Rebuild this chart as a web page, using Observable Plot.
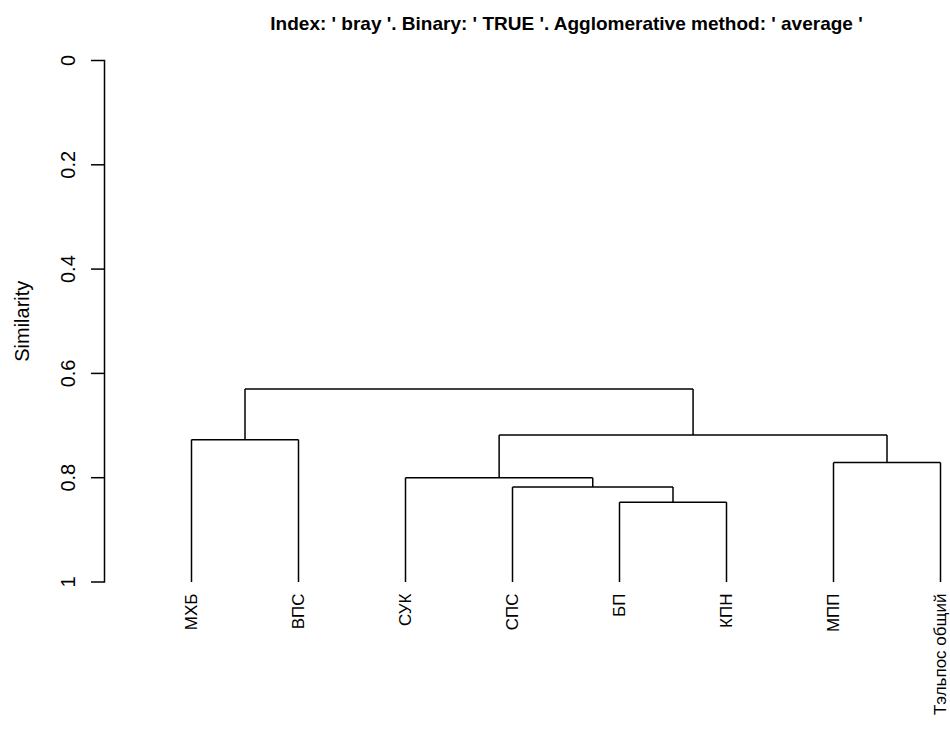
<!DOCTYPE html>
<html>
<head>
<meta charset="utf-8">
<script src="https://cdn.jsdelivr.net/npm/d3@7"></script>
<script src="https://cdn.jsdelivr.net/npm/@observablehq/plot@0.6"></script>
<style>
  html, body { margin: 0; padding: 0; background: #ffffff; }
  #chart svg { display: block; }
</style>
</head>
<body>
<div id="chart"></div>
<script>
// ---- data ----
const title = "Index: ' bray '. Binary: ' TRUE '. Agglomerative method: ' average '";
const yLabel = "Similarity";
const leafLabels = ["МХБ", "ВПС", "СУК", "СПС", "БП", "КПН", "МПП", "Тэльпос общий"];
// R-style merge matrix: negative = leaf (1-based, display order), positive = earlier merge
const mergeLeft  = [-5, -4, -3, -7, -1, 3, 5];
const mergeRight = [-6,  1,  2, -8, -2, 4, 6];
const mergeHeights = [0.847, 0.818, 0.800, 0.771, 0.727, 0.718, 0.630];
const yTicks = [0, 0.2, 0.4, 0.6, 0.8, 1];
const yTickLabels = ["0", "0.2", "0.4", "0.6", "0.8", "1"];
const leafHeight = 1;

// ---- tree layout (from the data above) ----
const leaves = leafLabels.map((label, i) => ({label, x: i + 1}));
const nodeX = [], nodeH = [];
const childX = c => c < 0 ? leaves[-c - 1].x : nodeX[c - 1];
const childH = c => c < 0 ? leafHeight : nodeH[c - 1];
const segments = [];
mergeHeights.forEach((h, k) => {
  const a = mergeLeft[k], b = mergeRight[k];
  const xa = childX(a), xb = childX(b);
  segments.push({x1: xa, y1: h, x2: xb, y2: h});
  segments.push({x1: xa, y1: h, x2: xa, y2: childH(a)});
  segments.push({x1: xb, y1: h, x2: xb, y2: childH(b)});
  nodeX[k] = (xa + xb) / 2;
  nodeH[k] = h;
});

const font = "'Liberation Sans', Arial, Helvetica, sans-serif";

const chart = Plot.plot({
  width: 950,
  height: 735,
  marginLeft: 104,
  marginTop: 60,
  marginBottom: 153.5,
  marginRight: 10,
  style: {fontFamily: font, fontSize: "20px", color: "#000", background: "#fff"},
  x: {type: "linear", domain: [1, leafLabels.length], range: [191, 940], axis: null},
  y: {type: "linear", domain: [0, 1], range: [60, 581.5]},
  marks: [
    Plot.frame({anchor: "left", stroke: "#000", strokeWidth: 1.5}),
    Plot.axisY({ticks: yTicks, tickSize: 13, tickFormat: () => "", label: null, stroke: "#000", strokeWidth: 1.5}),
    Plot.text(yTicks, {y: d => d, text: (d, i) => yTickLabels[i], frameAnchor: "left", dx: -36,
      rotate: -90, textAnchor: "middle", lineAnchor: "middle", fontSize: 20, fill: "#000"}),
    Plot.text([yLabel], {text: d => d, frameAnchor: "left", dx: -82, rotate: -90,
      textAnchor: "middle", lineAnchor: "middle", fontSize: 20, fill: "#000"}),
    Plot.link(segments, {x1: "x1", y1: "y1", x2: "x2", y2: "y2", stroke: "#000", strokeWidth: 1.5}),
    Plot.text(leaves, {x: "x", text: "label", frameAnchor: "bottom", rotate: -90,
      textAnchor: "end", lineAnchor: "middle", dx: 0, dy: 11.5, fontSize: 17, fill: "#000"}),
    Plot.text([title], {text: d => d, frameAnchor: "top-left", dx: 462, dy: -30.7,
      textAnchor: "middle", lineAnchor: "bottom", fontWeight: "bold", fontSize: 19, fill: "#000"})
  ]
});
document.getElementById("chart").appendChild(chart);
</script>
</body>
</html>
